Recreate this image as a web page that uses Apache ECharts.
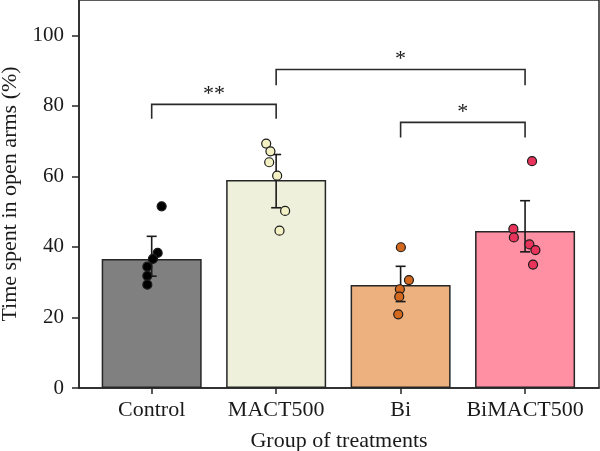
<!DOCTYPE html>
<html>
<head>
<meta charset="utf-8">
<script src="https://cdn.jsdelivr.net/npm/echarts@6/dist/echarts.min.js"></script>
<style>html,body{margin:0;padding:0;background:#fff}#c{width:600px;height:451px}</style>
</head>
<body>
<div id="c"></div>
<script>
// ---- data ----
const categories = ['Control', 'MACT500', 'Bi', 'BiMACT500'];
const means = [36.6, 59.0, 29.2, 44.5];
const errLow = [31.7, 51.1, 24.5, 38.6];
const errHigh = [43.0, 66.2, 34.5, 53.1];
const ptsControl = [51.5, 38.3, 36.6, 34.4, 31.8, 29.3];
const jitControl = [0.08, 0.048, 0.01, -0.035, -0.035, -0.035];
const ptsMACT = [69.3, 67.1, 64.0, 60.2, 50.2, 44.6];
const jitMACT = [-0.08, -0.046, -0.056, 0.008, 0.072, 0.027];
const ptsBi = [39.9, 30.6, 28.0, 25.9, 20.9];
const jitBi = [0.002, 0.067, -0.006, -0.011, -0.019];
const ptsBiMACT = [64.3, 45.1, 42.7, 40.7, 39.1, 35.0];
const jitBiMACT = [0.056, -0.094, -0.09, 0.035, 0.083, 0.064];
// significance brackets: [from, to, top, legBottom, label]
const brackets = [
  [0, 1, 80.4, 76.3, '**'],
  [1, 3, 90.3, 85.8, '*'],
  [2, 3, 75.3, 71.0, '*']
];
const yTicks = [0, 20, 40, 60, 80, 100];

const barColors = ['#808080', '#EFF0DC', '#EDB07F', '#FF8FA3'];
const dotColors = ['#000000', '#F3F1C4', '#D2691E', '#E8335B'];
const FONT = 'Liberation Serif';
const TXT = '#1a1a1a';

const groups = [
  [ptsControl, jitControl],
  [ptsMACT, jitMACT],
  [ptsBi, jitBi],
  [ptsBiMACT, jitBiMACT]
];

const chart = echarts.init(document.getElementById('c'), null, {renderer: 'canvas'});

const series = [];
series.push({
  type: 'bar',
  barWidth: 100,
  data: means.map((m, i) => ({
    value: [i, m],
    itemStyle: {color: barColors[i], borderColor: '#262626', borderWidth: 1.5}
  })),
  z: 2
});
series.push({
  type: 'custom',
  z: 3,
  data: categories.map((c, i) => [i, errLow[i], errHigh[i]]),
  renderItem: function (params, api) {
    const lo = api.coord([api.value(0), api.value(1)]);
    const hi = api.coord([api.value(0), api.value(2)]);
    const hw = 5;
    const st = {stroke: '#1a1a1a', lineWidth: 1.6};
    return {
      type: 'group',
      children: [
        {type: 'line', shape: {x1: lo[0], y1: lo[1], x2: hi[0], y2: hi[1]}, style: st},
        {type: 'line', shape: {x1: hi[0] - hw, y1: hi[1], x2: hi[0] + hw, y2: hi[1]}, style: st},
        {type: 'line', shape: {x1: lo[0] - hw, y1: lo[1], x2: lo[0] + hw, y2: lo[1]}, style: st}
      ]
    };
  }
});
groups.forEach((g, i) => {
  series.push({
    type: 'scatter',
    z: 4,
    symbolSize: 9,
    itemStyle: {color: dotColors[i], borderColor: '#1a1a1a', borderWidth: 1.2, opacity: 1},
    data: g[0].map((v, k) => [i + g[1][k], v])
  });
});
series.push({
  type: 'custom',
  z: 5,
  data: brackets,
  renderItem: function (params, api) {
    const a = api.coord([api.value(0), api.value(2)]);
    const b = api.coord([api.value(1), api.value(2)]);
    const la = api.coord([api.value(0), api.value(3)]);
    const label = brackets[params.dataIndex][4];
    return {
      type: 'group',
      children: [
        {type: 'polyline', shape: {points: [[a[0], la[1]], [a[0], a[1]], [b[0], b[1]], [b[0], la[1]]]},
         style: {stroke: '#2a2a2a', lineWidth: 1.6, fill: null}},
        {type: 'text', x: (a[0] + b[0]) / 2, y: a[1] - 10,
         style: {text: label, font: '22px "' + FONT + '"', fill: TXT, align: 'center', verticalAlign: 'middle'}}
      ]
    };
  }
});

chart.setOption({
  animation: false,
  backgroundColor: '#ffffff',
  grid: {left: 79, right: 1, top: 0, bottom: 63, show: true, borderColor: '#262626', borderWidth: 1.5,
         backgroundColor: 'transparent', containLabel: false, outerBoundsMode: 'none'},
  xAxis: {
    type: 'value',
    min: -0.584,
    max: 3.594,
    name: 'Group of treatments',
    nameLocation: 'middle',
    nameGap: 42,
    nameTextStyle: {fontFamily: FONT, fontSize: 22, color: TXT},
    axisLine: {show: true, onZero: false, lineStyle: {color: '#262626', width: 1.5}},
    axisTick: {show: true, length: 6, lineStyle: {color: '#262626', width: 1.5}, customValues: [0, 1, 2, 3]},
    axisLabel: {customValues: [0, 1, 2, 3], formatter: v => categories[Math.round(v)], fontFamily: FONT, fontSize: 22, color: TXT, margin: 11},
    splitLine: {show: false}
  },
  yAxis: {
    type: 'value',
    min: 0,
    max: 110,
    name: 'Time spent in open arms (%)',
    nameLocation: 'middle',
    nameGap: 58,
    nameTextStyle: {fontFamily: FONT, fontSize: 22, color: TXT},
    axisLine: {show: true, onZero: false, lineStyle: {color: '#262626', width: 1.5}},
    axisTick: {show: true, length: 7, lineStyle: {color: '#262626', width: 1.5}, customValues: yTicks},
    axisLabel: {customValues: yTicks, fontFamily: FONT, fontSize: 21, color: TXT, margin: 15},
    splitLine: {show: false}
  },
  series: series
});
</script>
</body>
</html>
